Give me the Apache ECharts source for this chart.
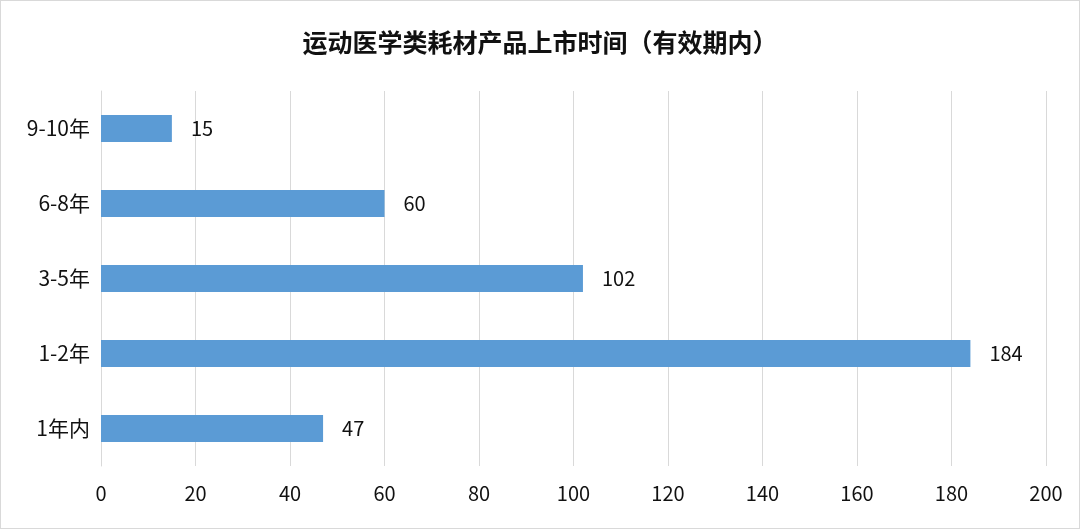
<!DOCTYPE html>
<html><head><meta charset="utf-8">
<script src="https://cdn.jsdelivr.net/npm/echarts@6/dist/echarts.min.js"></script>
<style>html,body{margin:0;padding:0;background:#fff}#c{width:1080px;height:529px;box-sizing:border-box;border:1px solid #d9d9d9}</style>
</head><body><div id="c"></div>
<script>
const title = '运动医学类耗材产品上市时间（有效期内）';
const categories = ['1年内', '1-2年', '3-5年', '6-8年', '9-10年'];
const values = [47, 184, 102, 60, 15];
const chart = echarts.init(document.getElementById('c'));
const font = '"Noto Sans CJK SC", "Noto Sans", sans-serif';
chart.setOption({
  animation: false,
  title: { text: title, left: 'center', top: 24, textStyle: { fontFamily: font, fontSize: 25, fontWeight: 'bold', color: '#111' } },
  grid: { left: 100, right: 33, top: 90, bottom: 62, containLabel: false },
  xAxis: { type: 'value', min: 0, max: 200, interval: 20,
    axisLine: { show: false }, axisTick: { show: false },
    splitLine: { lineStyle: { color: '#d9d9d9', width: 1 } },
    axisLabel: { fontFamily: font, fontSize: 20, color: '#111', margin: 17 } },
  yAxis: { type: 'category', data: categories,
    axisLine: { show: true, lineStyle: { color: '#d9d9d9' } }, axisTick: { show: false },
    axisLabel: { fontFamily: font, fontSize: 21, color: '#111', margin: 11 } },
  series: [{ type: 'bar', data: values, barWidth: 27, itemStyle: { color: '#5B9BD5' },
    label: { show: true, position: 'right', distance: 19, fontFamily: font, fontSize: 20, color: '#111' } }]
});
</script></body></html>
